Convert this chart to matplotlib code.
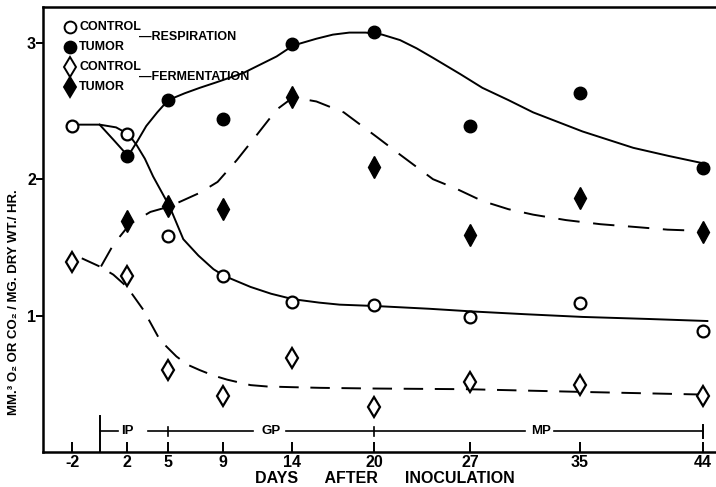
import matplotlib
matplotlib.use("Agg")
import matplotlib.pyplot as plt

plt.rcParams['font.family'] = ['Liberation Sans Narrow', 'Liberation Sans', 'DejaVu Sans']
plt.rcParams['font.weight'] = 'bold'

# days after inoculation
days = [-2, 2, 5, 9, 14, 20, 27, 35, 44]
days_tumor = [2, 5, 9, 14, 20, 27, 35, 44]

# measured points
ctrl_resp = [2.39, 2.33, 1.58, 1.29, 1.10, 1.08, 0.99, 1.09, 0.89]
tum_resp = [2.17, 2.58, 2.44, 2.99, 3.08, 2.39, 2.63, 2.08]
ctrl_ferm = [1.39, 1.29, 0.60, 0.41, 0.69, 0.33, 0.51, 0.49, 0.41]
tum_ferm = [1.69, 1.80, 1.78, 2.60, 2.09, 1.59, 1.86, 1.61]

# hand drawn trend curves
ctrl_resp_cx = [-2.0, 0.0, 1.2, 2.1, 2.7, 3.3, 3.9, 4.5, 5.1, 6.1, 7.2, 8.3, 9.1, 11.0, 12.5, 14.1, 16.0, 17.5, 20.1, 24.0, 27.2, 31.0, 35.2, 40.0, 44.3]
ctrl_resp_cy = [2.40, 2.40, 2.38, 2.33, 2.25, 2.15, 2.02, 1.91, 1.80, 1.56, 1.44, 1.34, 1.29, 1.21, 1.16, 1.12, 1.095, 1.08, 1.07, 1.05, 1.03, 1.01, 0.99, 0.975, 0.96]

tum_resp_cx = [0.0, 1.0, 2.07, 2.7, 3.4, 4.2, 5.0, 6.2, 7.3, 8.5, 10.5, 12.9, 14.1, 15.8, 17.0, 18.2, 19.4, 20.6, 21.9, 23.1, 24.3, 26.3, 27.9, 29.8, 31.6, 33.4, 35.2, 38.9, 41.5, 44.3]
tum_resp_cy = [2.40, 2.29, 2.17, 2.27, 2.39, 2.49, 2.58, 2.63, 2.67, 2.71, 2.78, 2.90, 2.98, 3.03, 3.06, 3.075, 3.075, 3.06, 3.02, 2.96, 2.89, 2.77, 2.67, 2.58, 2.49, 2.42, 2.35, 2.23, 2.17, 2.11]

ctrl_ferm_cx = [-1.3, 0.0, 1.0, 2.0, 3.2, 4.4, 5.6, 6.4, 7.3, 8.3, 9.3, 11.0, 12.2, 14.0, 16.1, 20.0, 26.8, 35.2, 44.3]
ctrl_ferm_cy = [1.42, 1.36, 1.30, 1.21, 1.04, 0.82, 0.70, 0.64, 0.60, 0.56, 0.53, 0.49, 0.48, 0.475, 0.47, 0.465, 0.46, 0.44, 0.42]

tum_ferm_cx = [0.1, 1.0, 2.2, 3.7, 5.1, 6.2, 7.3, 8.6, 10.0, 11.5, 12.9, 14.1, 15.8, 17.8, 20.2, 21.9, 24.3, 26.0, 27.9, 29.8, 31.6, 34.0, 36.5, 39.0, 41.4, 44.1]
tum_ferm_cy = [1.36, 1.52, 1.67, 1.76, 1.80, 1.85, 1.90, 1.98, 2.14, 2.33, 2.51, 2.60, 2.57, 2.49, 2.31, 2.18, 2.00, 1.93, 1.84, 1.78, 1.74, 1.70, 1.67, 1.65, 1.63, 1.62]

# growth phases along the bottom
phase_edges = [0, 5, 20, 44]
phase_names = ['IP', 'GP', 'MP']
phase_label_x = [2.0, 12.5, 32.2]
phase_gaps = [(1.35, 3.5), (11.2, 13.6), (31.0, 33.1)]
phase_y = 0.15

xticks = [-2, 2, 5, 9, 14, 20, 27, 35, 44]
yticks = [1, 2, 3]

fig = plt.figure(figsize=(7.16, 4.87), dpi=100)
ax = fig.add_axes([0.060, 0.072, 0.940, 0.914])
ax.set_xlim(-4.13, 44.93)
ax.set_ylim(0, 3.264)

lw = 1.4
ax.plot(ctrl_resp_cx, ctrl_resp_cy, color='black', lw=lw, zorder=2)
ax.plot(tum_resp_cx, tum_resp_cy, color='black', lw=lw, zorder=2)
ax.plot(ctrl_ferm_cx, ctrl_ferm_cy, color='black', lw=lw, ls=(0, (10, 6)), zorder=2)
ax.plot(tum_ferm_cx, tum_ferm_cy, color='black', lw=lw, ls=(0, (11, 7)), zorder=2)

ax.plot(days, ctrl_resp, 'o', ms=8.5, mfc='white', mec='black', mew=1.6, zorder=3)
ax.plot(days_tumor, tum_resp, 'o', ms=9, mfc='black', mec='black', zorder=3)
ax.plot(days, ctrl_ferm, 'd', ms=10, mfc='white', mec='black', mew=1.6, zorder=3)
ax.plot(days_tumor, tum_ferm, 'd', ms=11, mfc='black', mec='black', zorder=3)

# phase bar
segs = [phase_edges[0]]
for a, b in phase_gaps:
    segs += [a, b]
segs.append(phase_edges[-1])
for i in range(0, len(segs), 2):
    ax.plot([segs[i], segs[i + 1]], [phase_y, phase_y], color='black', lw=1.2)
ax.plot([phase_edges[0], phase_edges[0]], [0, 0.26], color='black', lw=1.4)
for e in phase_edges[1:-1]:
    ax.plot([e, e], [phase_y - 0.03, phase_y + 0.03], color='black', lw=1.2)
ax.plot([phase_edges[-1], phase_edges[-1]], [phase_y - 0.045, phase_y + 0.045], color='black', lw=1.4)
for name, xp in zip(phase_names, phase_label_x):
    ax.text(xp, phase_y, name, ha='center', va='center', fontsize=9.5, fontweight='bold')

# axes styling
for s in ['left', 'bottom', 'top']:
    ax.spines[s].set_linewidth(1.8)
ax.spines['right'].set_visible(False)
ax.set_xticks(xticks)
ax.set_xticklabels([str(t) for t in xticks], fontsize=11.5, fontweight='bold')
ax.tick_params(axis='x', direction='in', length=7, width=1.4, pad=2)
ax.set_yticks(yticks)
ax.set_yticklabels([str(t) for t in yticks], fontsize=11.5, fontweight='bold')
ax.tick_params(axis='y', direction='out', length=5, width=1.4, pad=0)

fig.text(0.538, 0.003, 'DAYS      AFTER      INOCULATION', ha='center', va='bottom',
         fontsize=11.5, fontweight='bold')
fig.text(0.020, 0.38, 'MM.³ O₂ OR CO₂ / MG. DRY WT./ HR.', rotation=90,
         ha='center', va='center', fontsize=9.5, fontweight='bold')

# legend drawn as text block
lx = 0.040
leg_rows = [(0.955, 'o', 'white', 'CONTROL'), (0.910, 'o', 'black', 'TUMOR'),
            (0.865, 'd', 'white', 'CONTROL'), (0.820, 'd', 'black', 'TUMOR')]
for yy, mk, fc, txt in leg_rows:
    ax.plot([lx], [yy], mk, ms=8.5 if mk == 'o' else 10, mfc=fc, mec='black', mew=1.4,
            transform=ax.transAxes, clip_on=False)
    ax.text(lx + 0.014, yy, txt, transform=ax.transAxes, ha='left', va='center',
            fontsize=9, fontweight='bold')
ax.text(0.142, 0.932, '—RESPIRATION', transform=ax.transAxes, ha='left', va='center',
        fontsize=9, fontweight='bold')
ax.text(0.142, 0.842, '—FERMENTATION', transform=ax.transAxes, ha='left', va='center',
        fontsize=9, fontweight='bold')

fig.savefig('out.png', dpi=100)
